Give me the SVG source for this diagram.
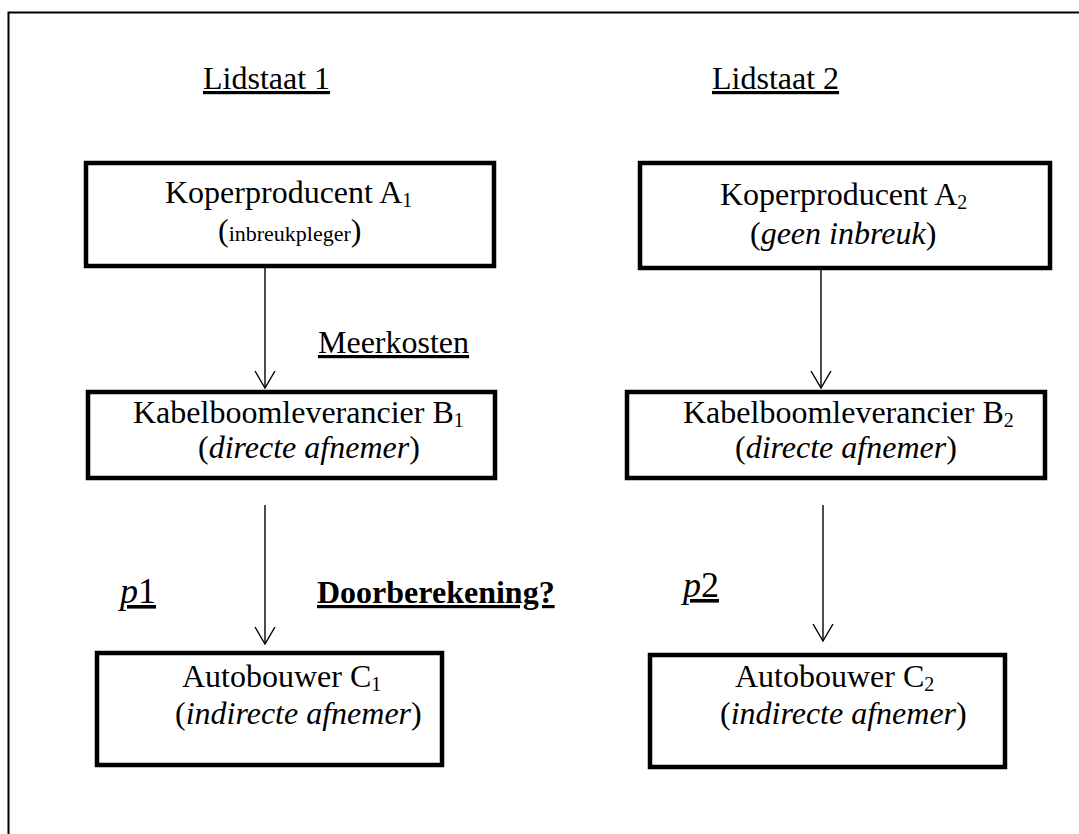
<svg xmlns="http://www.w3.org/2000/svg" width="1079" height="834" viewBox="0 0 1079 834">
<style>
.t{font-family:"Liberation Serif","Times New Roman",serif;font-size:32px;fill:#000}
.i{font-style:italic}
.sm{font-size:22px}
.sub{font-size:20px}
.box{fill:#fff;stroke:#000;stroke-width:4.5}
.conn{stroke:#000;stroke-width:1.4;fill:none;marker-end:url(#ah)}
.u{text-decoration:underline}
.m{font-size:36px}
</style>
<defs>
<marker id="ah" markerUnits="userSpaceOnUse" viewBox="0 0 18 22" refX="17" refY="11" markerWidth="18" markerHeight="22" orient="auto">
<path d="M0,1 L17,11 L0,21" fill="none" stroke="#000" stroke-width="1.4"/>
</marker>
</defs>
<rect width="1079" height="834" fill="#fff"/>
<path d="M8.5,834 V12.5 H1079" fill="none" stroke="#000" stroke-width="2"/>

<g id="labels">
<text class="t u" x="203" y="89">Lidstaat 1</text>
<text class="t u" x="712" y="89">Lidstaat 2</text>
<text class="t u" x="318" y="353">Meerkosten</text>
<text class="t u m" x="120" y="603"><tspan class="i">p</tspan>1</text>
<text class="t u" x="317" y="603" font-weight="bold" font-size="30">Doorberekening?</text>
<text class="t u m" x="683" y="597"><tspan class="i">p</tspan>2</text>
</g>

<g id="connectors">
<line class="conn" x1="265" y1="266" x2="265" y2="388"/>
<line class="conn" x1="821" y1="268" x2="821" y2="388"/>
<line class="conn" x1="265" y1="505" x2="265" y2="644"/>
<line class="conn" x1="823" y1="505" x2="823" y2="641"/>
</g>

<g id="A1">
<rect class="box" x="86" y="163" width="408" height="103"/>
<text class="t" x="165" y="203">Koperproducent A<tspan class="sub" dy="4">1</tspan></text>
<text class="t" x="218" y="241">(<tspan class="sm">inbreukpleger</tspan>)</text>
</g>
<g id="A2">
<rect class="box" x="640" y="163" width="410" height="105"/>
<text class="t" x="720" y="205">Koperproducent A<tspan class="sub" dy="4">2</tspan></text>
<text class="t" x="750" y="244">(<tspan class="i">geen inbreuk</tspan>)</text>
</g>
<g id="B1">
<rect class="box" x="88" y="392" width="407" height="86"/>
<text class="t" x="133" y="423">Kabelboomleverancier B<tspan class="sub" dy="4">1</tspan></text>
<text class="t" x="198" y="458">(<tspan class="i">directe afnemer</tspan>)</text>
</g>
<g id="B2">
<rect class="box" x="627" y="392" width="418" height="86"/>
<text class="t" x="683" y="423">Kabelboomleverancier B<tspan class="sub" dy="4">2</tspan></text>
<text class="t" x="735" y="458">(<tspan class="i">directe afnemer</tspan>)</text>
</g>
<g id="C1">
<rect class="box" x="97" y="653" width="345" height="112"/>
<text class="t" x="182" y="687">Autobouwer C<tspan class="sub" dy="4">1</tspan></text>
<text class="t" x="175" y="724">(<tspan class="i">indirecte afnemer</tspan>)</text>
</g>
<g id="C2">
<rect class="box" x="650" y="655" width="355" height="112"/>
<text class="t" x="735" y="687">Autobouwer C<tspan class="sub" dy="4">2</tspan></text>
<text class="t" x="720" y="724">(<tspan class="i">indirecte afnemer</tspan>)</text>
</g>
</svg>
